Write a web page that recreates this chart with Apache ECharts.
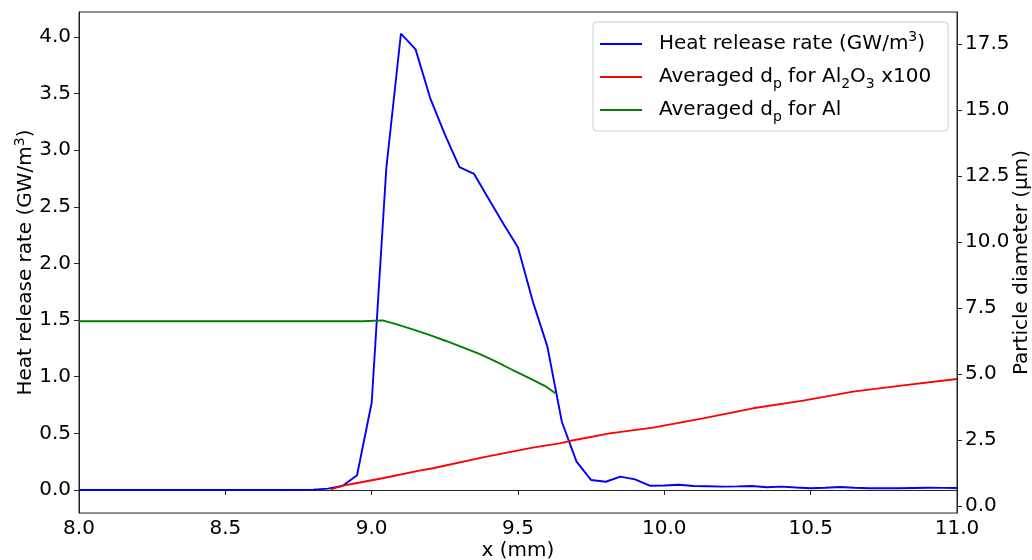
<!DOCTYPE html>
<html>
<head>
<meta charset="utf-8">
<script src="https://cdn.jsdelivr.net/npm/echarts@6/dist/echarts.min.js"></script>
<style>
html,body{margin:0;padding:0;background:#fff;}
#chart{width:1032px;height:560px;}
</style>
</head>
<body>
<div id="chart"></div>
<script>
// ---- data ----
const hrrX = [8.00,8.05,8.10,8.15,8.20,8.25,8.30,8.35,8.40,8.45,8.50,8.55,8.60,8.65,8.70,8.75,8.80,
  8.85,8.90,8.95,9.00,9.05,9.10,9.15,9.20,9.25,9.30,9.35,9.40,9.45,9.50,9.55,9.60,9.65,9.70,9.75,
  9.80,9.85,9.90,9.95,10.00,10.05,10.10,10.15,10.20,10.25,10.30,10.35,10.40,10.45,10.50,10.55,10.60,
  10.65,10.70,10.75,10.80,10.85,10.90,10.95,11.00];
const hrrY = [0,0,0,0,0,0,0,0,0,0,0,0,0,0,0,0.001,0.003,
  0.012,0.035,0.13,0.77,2.84,4.03,3.89,3.46,3.14,2.85,2.79,2.57,2.35,2.14,1.67,1.27,0.60,0.25,0.088,
  0.073,0.118,0.094,0.038,0.040,0.047,0.035,0.033,0.030,0.032,0.035,0.024,0.030,0.022,0.015,0.020,0.026,
  0.020,0.015,0.017,0.016,0.018,0.020,0.019,0.018];

const al2o3X = [8.861,8.898,8.946,9.037,9.163,9.209,9.38,9.55,9.642,9.676,9.813,9.961,10.132,10.303,10.474,10.645,10.816,11.0];
const al2o3Y = [0.63,0.76,0.86,1.05,1.34,1.43,1.84,2.21,2.37,2.46,2.75,2.97,3.32,3.70,3.99,4.33,4.57,4.81];

const alX = [8.0,8.5,8.97,9.037,9.083,9.14,9.197,9.254,9.311,9.368,9.425,9.482,9.539,9.596,9.628];
const alY = [7.0,7.0,7.0,7.03,6.89,6.69,6.48,6.25,6.01,5.76,5.47,5.15,4.84,4.52,4.27];

const xTicks = [8.0,8.5,9.0,9.5,10.0,10.5,11.0];
const leftTicks = [0,0.5,1.0,1.5,2.0,2.5,3.0,3.5,4.0];
const rightTicks = [0,2.5,5.0,7.5,10.0,12.5,15.0,17.5];

const seriesNames = ['hrr','al2o3','al'];
const legendLabels = {
  hrr: 'Heat release rate (GW/m{sup|3})',
  al2o3: 'Averaged d{sub|p} for Al{sub|2}O{sub|3} x100',
  al: 'Averaged d{sub|p} for Al'
};

const zip = (xs, ys) => xs.map((x, i) => [x, ys[i]]);

const FONT = 'DejaVu Sans';
const richScripts = {
  sup: {fontSize: 14, fontFamily: FONT, color: '#000', verticalAlign: 'top', lineHeight: 14},
  sub: {fontSize: 14, fontFamily: FONT, color: '#000', verticalAlign: 'bottom', lineHeight: 14}
};
const axisCol = '#222';

const chart = echarts.init(document.getElementById('chart'), null, {renderer: 'canvas'});
chart.setOption({
  animation: false,
  backgroundColor: '#fff',
  grid: {left: 79, right: 75, top: 12, bottom: 47, show: true, borderColor: axisCol, borderWidth: 1,
    backgroundColor: 'transparent', containLabel: false, outerBoundsMode: 'none'},
  legend: {
    data: seriesNames,
    orient: 'vertical',
    left: 593, top: 22,
    padding: [8, 17, 7, 7],
    itemGap: 5,
    itemWidth: 42, itemHeight: 2,
    icon: 'rect',
    align: 'left',
    backgroundColor: 'rgba(255,255,255,0.8)',
    borderColor: '#cccccc', borderWidth: 1, borderRadius: 4,
    formatter: n => legendLabels[n],
    textStyle: {
      fontFamily: FONT, fontSize: 20, color: '#000', lineHeight: 28,
      padding: [0, 0, 0, 12],
      rich: richScripts
    }
  },
  xAxis: {
    type: 'value', min: 8, max: 11, interval: 0.5,
    name: 'x (mm)', nameLocation: 'middle', nameGap: 28, nameMoveOverlap: false,
    nameTextStyle: {fontFamily: FONT, fontSize: 20, color: '#000'},
    axisLine: {show: true, lineStyle: {color: axisCol, width: 1}},
    axisTick: {show: true, length: 5, lineStyle: {color: axisCol}},
    axisLabel: {fontFamily: FONT, fontSize: 20, color: '#000', margin: 6,
      formatter: v => v.toFixed(1)},
    splitLine: {show: false}
  },
  yAxis: [{
    type: 'value', position: 'left', min: -0.203, max: 4.22,
    name: 'Heat release rate (GW/m{sup|3})', nameLocation: 'middle', nameGap: 40, nameRotate: 90,
    nameMoveOverlap: false,
    nameTextStyle: {fontFamily: FONT, fontSize: 20, color: '#000', lineHeight: 26, rich: richScripts},
    axisLine: {show: true, onZero: false, lineStyle: {color: axisCol, width: 1}},
    axisTick: {show: true, length: 5, customValues: leftTicks, lineStyle: {color: axisCol}},
    axisLabel: {fontFamily: FONT, fontSize: 20, color: '#000', margin: 8, customValues: leftTicks,
      formatter: v => v.toFixed(1)},
    splitLine: {show: false}
  }, {
    type: 'value', position: 'right', min: -0.265, max: 18.71,
    name: 'Particle diameter (µm)', nameLocation: 'middle', nameGap: 55, nameRotate: 90,
    nameMoveOverlap: false,
    nameTextStyle: {fontFamily: FONT, fontSize: 20, color: '#000'},
    axisLine: {show: true, onZero: false, lineStyle: {color: axisCol, width: 1}},
    axisTick: {show: true, length: 5, customValues: rightTicks, lineStyle: {color: axisCol}},
    axisLabel: {fontFamily: FONT, fontSize: 20, color: '#000', margin: 8, customValues: rightTicks,
      formatter: v => v.toFixed(1)},
    splitLine: {show: false}
  }],
  series: [{
    name: 'hrr', type: 'line', yAxisIndex: 0, data: zip(hrrX, hrrY),
    showSymbol: false, symbol: 'none', z: 2,
    lineStyle: {color: '#0000ff', width: 1.9}, itemStyle: {color: '#0000ff'}
  }, {
    name: 'al2o3', type: 'line', yAxisIndex: 1, data: zip(al2o3X, al2o3Y),
    showSymbol: false, symbol: 'none', z: 3,
    lineStyle: {color: '#ff0000', width: 1.9}, itemStyle: {color: '#ff0000'}
  }, {
    name: 'al', type: 'line', yAxisIndex: 1, data: zip(alX, alY),
    showSymbol: false, symbol: 'none', z: 3,
    lineStyle: {color: '#008000', width: 1.9}, itemStyle: {color: '#008000'}
  }]
});
</script>
</body>
</html>
